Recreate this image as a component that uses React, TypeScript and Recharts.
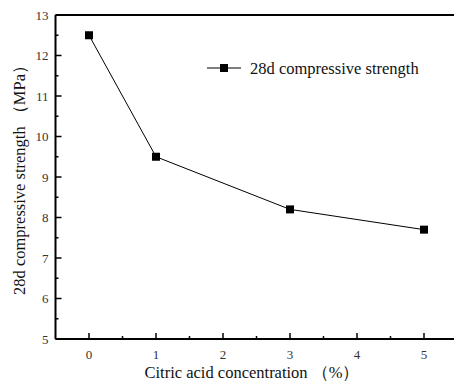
import { Legend, Line, LineChart, ReferenceLine, XAxis, YAxis } from "recharts";

const concentration = [0, 1, 3, 5];
const strength28d = [12.5, 9.5, 8.2, 7.7];
const xTicks = [0, 0.5, 1, 1.5, 2, 2.5, 3, 3.5, 4, 4.5, 5, 5.5];
const yTicks = [5, 5.5, 6, 6.5, 7, 7.5, 8, 8.5, 9, 9.5, 10, 10.5, 11, 11.5, 12, 12.5, 13];

const dados = concentration.map((c, i) => ({ c, v: strength28d[i] }));

const FONT = "'Liberation Serif', 'Times New Roman', serif";

function TickY(props: any) {
  const { x, y, payload } = props;
  const major = Number.isInteger(payload.value);
  return (
    <g>
      <line x1={x} y1={y} x2={x + (major ? 6 : 3)} y2={y} stroke="#000" strokeWidth={1.5} />
      {major && (
        <text x={x - 7} y={y + 4.5} textAnchor="end" fontSize={13} fontFamily={FONT} fill="#333">
          {payload.value}
        </text>
      )}
    </g>
  );
}

function TickX(props: any) {
  const { x, y, payload } = props;
  const major = Number.isInteger(payload.value);
  return (
    <g>
      <line x1={x} y1={y} x2={x} y2={y - (major ? 6 : 3)} stroke="#000" strokeWidth={1.5} />
      {major && (
        <text x={x} y={y + 20} textAnchor="middle" fontSize={13} fontFamily={FONT} fill="#333">
          {payload.value}
        </text>
      )}
    </g>
  );
}

function SquareDot(props: any) {
  const { cx, cy } = props;
  return <rect x={cx - 4} y={cy - 4} width={8} height={8} fill="#000" />;
}

function LegendBox() {
  return (
    <svg width={240} height={24}>
      <line x1={2} y1={11} x2={36} y2={11} stroke="#000" strokeWidth={1} />
      <rect x={15} y={7} width={8} height={8} fill="#000" />
      <text x={45} y={16.5} fontSize={16.5} fontFamily={FONT} fill="#111">
        28d compressive strength
      </text>
    </svg>
  );
}

export default function App() {
  return (
    <div style={{ position: "absolute", left: 0, top: 0, width: 454, height: 383, overflow: "hidden", background: "#fff" }}>
      <LineChart
        width={470}
        height={383}
        data={dados}
        margin={{ top: 15, right: 12.5, bottom: 43, left: 54.5 }}
      >
        <XAxis
          dataKey="c"
          type="number"
          domain={[-0.5, 5.5]}
          ticks={xTicks}
          interval={0}
          height={1}
          tickSize={0}
          tickMargin={0}
          tick={<TickX />}
          axisLine={{ stroke: "#000", strokeWidth: 2 }}
          allowDataOverflow
        />
        <YAxis
          type="number"
          domain={[5, 13]}
          ticks={yTicks}
          interval={0}
          width={1}
          tickSize={0}
          tickMargin={0}
          tick={<TickY />}
          axisLine={{ stroke: "#000", strokeWidth: 2 }}
          allowDataOverflow
        />
        <ReferenceLine y={13} stroke="#000" strokeWidth={2} />
        <Legend
          layout="vertical"
          align="center"
          verticalAlign="middle"
          wrapperStyle={{ left: 205, top: 57, width: 240 }}
          content={() => <LegendBox />}
        />
        <Line
          type="linear"
          dataKey="v"
          name="28d compressive strength"
          stroke="#000"
          strokeWidth={1}
          dot={<SquareDot />}
          isAnimationActive={false}
        />
        <text
          x={19}
          y={176}
          transform="rotate(-90 19 176)"
          textAnchor="middle"
          dominantBaseline="central"
          fontSize={16.5}
          fontFamily={FONT}
          fill="#111"
        >
          28d compressive strength （MPa）
        </text>
        <text x={252} y={378} textAnchor="middle" fontSize={16.5} fontFamily={FONT} fill="#111">
          Citric acid concentration （%）
        </text>
      </LineChart>
    </div>
  );
}
